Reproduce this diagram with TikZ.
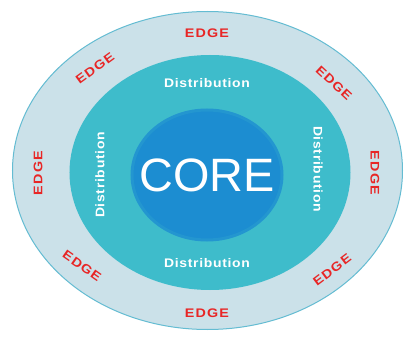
\documentclass[tikz,border=0pt]{standalone}
\usepackage{fontspec}
\setmainfont{Liberation Sans}
\newfontfamily\edgefont[LetterSpace=8]{Liberation Sans}
\newfontfamily\distfont[LetterSpace=5]{Liberation Sans}
\usepackage{tikz}
\usetikzlibrary{shapes.geometric}
\usetikzlibrary{positioning}

\definecolor{edgering}{RGB}{203,225,233}
\definecolor{edgeline}{RGB}{100,188,210}
\definecolor{distring}{RGB}{62,188,203}
\definecolor{corefill}{RGB}{28,141,209}
\definecolor{edgered}{RGB}{232,38,38}

\tikzset{
  ring/.style={ellipse,inner sep=0pt},
  edgelabel/.style={text=edgered,font=\edgefont\fontsize{12.5}{14}\selectfont\bfseries,inner sep=0pt},
  distlabel/.style={text=white,font=\distfont\fontsize{12.5}{14}\selectfont\bfseries,inner sep=0pt}
}

\begin{document}
\begin{tikzpicture}[x=1bp,y=1bp]
  \useasboundingbox (0,0) rectangle (409,337);
  \fill[white] (0,0) rectangle (409,337);
  % rings
  \node (edge) at (207.5,166.5) [ring,fill=edgering,draw=edgeline,line width=1bp,minimum width=390bp,minimum height=318bp]{};
  \node (dist) at (210,164.5) [ring,fill=distring,minimum width=281bp,minimum height=235bp]{};
  \node (core) at (207,162) [ring,fill=corefill,draw=corefill!80!distring,line width=3bp,minimum width=150bp,minimum height=130bp]{};
  \node (corename) at (core.center) [text=white,font=\fontsize{47}{50}\selectfont,inner sep=0pt]{CORE};

  % distribution labels
  \node (dtop) at (207,254) [distlabel,xscale=1.12]{Distribution};
  \node (dbottom) at (207,74) [distlabel,xscale=1.12]{Distribution};
  \node (dleft) at (100,162) [distlabel,rotate=90,xscale=1.12]{Distribution};
  \node (dright) at (318,168) [distlabel,rotate=-90,xscale=1.12]{Distribution};

  % edge labels
  \node (etop) at (207,304) [edgelabel,xscale=1.15]{EDGE};
  \node (etl) at (95,269) [edgelabel,rotate=36,xscale=1.15]{EDGE};
  \node (etr) at (334,254) [edgelabel,rotate=-43,xscale=1.15]{EDGE};
  \node (eleft) at (38,164) [edgelabel,rotate=90,xscale=1.15]{EDGE};
  \node (eright) at (375,164) [edgelabel,rotate=-90,xscale=1.15]{EDGE};
  \node (ebl) at (82,71) [edgelabel,rotate=-35,xscale=1.15]{EDGE};
  \node (ebr) at (332,67) [edgelabel,rotate=37,xscale=1.15]{EDGE};
  \node (ebottom) at (207,24) [edgelabel,xscale=1.15]{EDGE};
\end{tikzpicture}
\end{document}
